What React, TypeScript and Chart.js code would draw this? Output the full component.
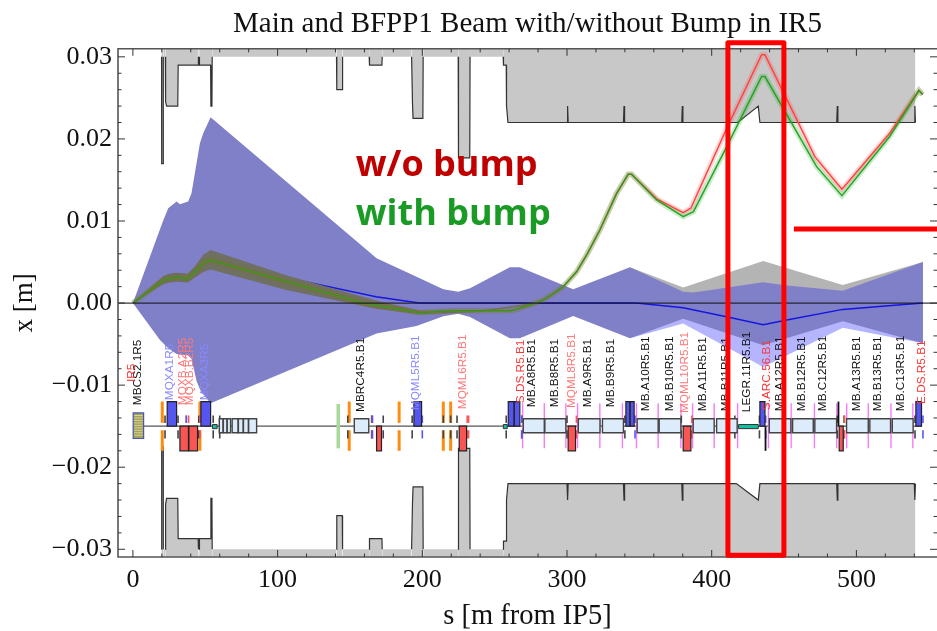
import React, { useEffect, useRef } from "react";
import { Chart, registerables } from "chart.js";
Chart.register(...registerables);

type P = [number, number];

const titleText = "Main and BFPP1 Beam with/without Bump in IR5";
const xTitle = "s [m from IP5]";
const yTitle = "x [m]";
const xTickValues = [0, 100, 200, 300, 400, 500];
const yTickValues = [0.03, 0.02, 0.01, 0, -0.01, -0.02, -0.03];
const yTickLabels = ["0.03", "0.02", "0.01", "0.00", "\u22120.01", "\u22120.02", "\u22120.03"];

const apertureTop: P[] = [
  [19.4, 0.03], [19.8, 0.03], [19.9, 0.017], [20.9, 0.017], [21.0, 0.03], [22.4, 0.03], [22.6, 0.0245], [23.3, 0.024], [31, 0.024], [31.3, 0.029],
  [45.1, 0.029], [45.3, 0.03], [45.8, 0.03], [46, 0.029], [53.7, 0.029], [53.9, 0.024], [54.6, 0.024], [54.8, 0.03],
  [140.7, 0.03], [140.9, 0.026], [144.7, 0.026], [144.9, 0.03], [163.3, 0.03], [163.5, 0.029], [172.1, 0.029], [172.3, 0.03],
  [192.6, 0.03], [193.2, 0.0245], [193.6, 0.0225], [200.4, 0.0225], [200.6, 0.03], [224.8, 0.03], [225, 0.0177], [232.8, 0.0177], [233, 0.03],
  [255.9, 0.03], [256.1, 0.029], [258, 0.029], [258.2, 0.024], [259.2, 0.022], [300, 0.022], [300.4, 0.024], [300.8, 0.022],
  [339, 0.022], [339.4, 0.024], [339.8, 0.022], [379.3, 0.022], [379.7, 0.024], [380.1, 0.022], [418, 0.022], [432.2, 0.024], [433.3, 0.022],
  [486.4, 0.022], [486.8, 0.024], [487.2, 0.022], [540, 0.022], [540.4, 0.024], [540.8, 0.022],
];
const apertureBottom: P[] = [
  [19.4, -0.03], [19.8, -0.03], [19.9, -0.0175], [20.9, -0.0175], [21.0, -0.03], [22.4, -0.03], [22.6, -0.0245], [23.3, -0.0238], [31, -0.0238], [31.3, -0.0287],
  [45.1, -0.0287], [45.3, -0.03], [45.8, -0.03], [46, -0.0287], [53.7, -0.0287], [53.9, -0.0238], [54.6, -0.0238], [54.8, -0.03],
  [140.7, -0.03], [140.9, -0.0259], [144.7, -0.0259], [144.9, -0.03], [163.3, -0.03], [163.5, -0.0287], [172.1, -0.0287], [172.3, -0.03],
  [192.6, -0.03], [193.2, -0.0245], [193.6, -0.0224], [200.4, -0.0224], [200.6, -0.03], [224.8, -0.03], [225, -0.0177], [232.8, -0.0177], [233, -0.03],
  [255.9, -0.03], [256.1, -0.029], [258, -0.029], [258.2, -0.024], [259.2, -0.022], [300, -0.022], [300.4, -0.024], [300.8, -0.022],
  [339, -0.022], [339.4, -0.024], [339.8, -0.022], [379.3, -0.022], [379.7, -0.024], [380.1, -0.022], [417, -0.022], [432.2, -0.024], [433.3, -0.022],
  [486.4, -0.022], [486.8, -0.024], [487.2, -0.022], [540, -0.022], [540.4, -0.024], [540.8, -0.022],
];

const grayEnvTop: P[] = [
  [343.5, 0.00435], [380.3, 0.0019], [435.6, 0.00513], [490.6, 0.00221], [546, 0.005],
];
const lavenderEnvBottom: P[] = [
  [343.5, -0.0043], [380.3, -0.0025], [435.6, -0.0078], [490.6, -0.003], [546, -0.0049],
];
const envelopeTop: P[] = [
  [0, 0], [21, 0.0101], [24.4, 0.01155], [30.2, 0.01236], [32.5, 0.01203], [38.2, 0.01236], [40.5, 0.01337], [46.3, 0.01947], [48.6, 0.0207], [53.7, 0.02264],
  [168.4, 0.00545], [196, 0.00321], [214.5, 0.00167], [224.8, 0.00138], [233, 0.00179], [260.5, 0.00435], [267.4, 0.00435], [304.3, 0.00167], [343.5, 0.00435],
  [380.3, 0.00138], [387.4, 0.0013], [435.6, 0.00254], [451.9, 0.00213], [490.6, 0.0015], [546, 0.005],
];
const envelopeBottom: P[] = [
  [0, 0], [18.7, -0.0045], [24.4, -0.0055], [30.2, -0.0062], [38.2, -0.0064], [40.5, -0.0068], [44, -0.0095], [46.3, -0.0105], [48.6, -0.0111], [53.7, -0.0122],
  [168.4, -0.0037], [196, -0.0028], [214.5, -0.0016], [224.8, -0.0013], [233, -0.0017], [260.5, -0.0043], [267.4, -0.0043], [304.3, -0.00159], [343.5, -0.0043],
  [380.3, -0.0019], [435.6, -0.00513], [490.6, -0.00221], [546, -0.0049],
];
const brownBandTop: P[] = [
  [0, 0], [21, 0.0033], [25.5, 0.0036], [30, 0.0037], [38, 0.0036], [42.9, 0.0045], [48.6, 0.0059], [53.7, 0.00646], [106, 0.0034], [168, 0.0003], [198, -0.0009], [240, -0.0009], [280, 0.0001],
];
const brownBandBottom: P[] = [
  [0, 0], [21, 0.0023], [25.5, 0.0025], [30, 0.0026], [38, 0.0025], [42.9, 0.0031], [48.6, 0.0038], [53.7, 0.0041], [106, 0.0016], [168, -0.0007], [198, -0.00135], [240, -0.0011], [280, -0.0001],
];
const mainOrbit: P[] = [
  [0, 0], [21, 0.0028], [30, 0.0031], [38, 0.003], [45, 0.0043], [53.7, 0.00524], [106, 0.0031], [168, 0.00077], [198, 0], [348, 0],
  [380.3, -0.00057], [412.6, -0.00175], [435.6, -0.00264], [451.9, -0.00207], [490.6, -0.00077], [520, -0.00037], [546, 0],
];
const redOrbit: P[] = [
  [0, 0], [21, 0.0028], [25.5, 0.003], [30, 0.0031], [38, 0.003], [42.9, 0.0038], [48.6, 0.0049], [53.7, 0.00524], [159, 0], [198, -0.00118], [221, -0.00094], [260.5, -0.00094],
  [265, -0.00077], [275, -0.0002], [283.5, 0.00037], [290, 0.0011], [297.4, 0.002], [306.6, 0.0038], [314, 0.006], [322.7, 0.0089], [334.3, 0.01337], [342.3, 0.0157], [344.6, 0.0157],
  [362, 0.0127], [380.3, 0.01101], [385.6, 0.01155], [410.4, 0.0213], [434.5, 0.03025], [436.8, 0.03025], [471.3, 0.01784], [490, 0.01387], [523, 0.0207], [543.2, 0.0259], [545.8, 0.0254],
];
const greenOrbit: P[] = [
  [0, 0], [21, 0.0028], [25.5, 0.003], [30, 0.0031], [38, 0.003], [42.9, 0.0038], [48.6, 0.0049], [53.7, 0.00524], [159, 0], [198, -0.00118], [221, -0.00094], [260.5, -0.00094],
  [265, -0.00077], [275, -0.0002], [283.5, 0.00037], [290, 0.0011], [297.4, 0.002], [306.6, 0.0038], [314, 0.006], [322.7, 0.0089], [334.3, 0.01337], [342.3, 0.0157], [344.6, 0.0157],
  [362, 0.01256], [380.3, 0.01053], [387.4, 0.01114], [410.4, 0.01906], [434.5, 0.0276], [436.8, 0.0276], [472.5, 0.01662], [490, 0.01309], [523, 0.0203], [543.2, 0.0259], [545.8, 0.0254],
];
const zeroLine: P[] = [[-10.3, 0], [555.7, 0]];

// machine layout: [s start, s end]
const beamlineSpan: P = [0, 545];
const scBox: P = [0.2, 7.4];
const focusQuads: P[] = [[23.7, 30.2], [47, 53.7], [194.2, 199.5], [259.4, 263.4], [263.6, 267.4], [340.7, 343.4], [343.7, 346.4], [433.3, 436.8], [541.1, 545]];
const defocusQuads: P[] = [[32.5, 38.4], [38.7, 44.7], [168.4, 171.8], [225.5, 230.6], [300.8, 305.9], [380.3, 385.6], [488.1, 490.9]];
const bends: P[] = [
  [59.7, 62.3], [62.5, 65], [65.2, 67.5], [68.6, 72.7], [72.9, 76.2], [76.4, 79.8], [80, 85.5], [153, 163],
  [269.8, 284.3], [284.7, 299.2], [307.8, 322.8], [324.5, 339], [348.5, 363], [363.7, 378.7], [387.2, 401.7], [403.4, 417.6],
  [439.8, 454.7], [455.9, 470.2], [471.3, 486.3], [493.2, 508.2], [509.3, 523.6], [524.8, 539.2],
];
const tealBoxes: P[] = [[55, 58.2], [256, 258.7], [418.6, 432.2]];
const orangeBars = [20.3, 46.3, 149.5, 184, 214.5, 219.6];
const greenBars = [141.9];
const pinkBars = [269.3, 284.3, 299.2, 307.3, 322.7, 338.3, 348, 363, 378.7, 386.8, 401.7, 417.9, 439.2, 454.9, 471, 486.4, 493.3, 508.2, 523.9, 539];
const blackStubs = [22.2, 31.2, 45.5, 55.5, 60, 148.5, 165, 173, 193, 214.5, 219.6, 224, 258, 268.7, 300, 340, 379, 416, 433, 486.8, 491.5, 540.5];
const redStubs = [36.9, 38.5, 46.5, 165.5, 231, 232, 306.5, 386.3, 491.8];
const blueStubs = [36.9, 165.5, 200, 268.7, 347, 437.3, 546];
const tallStubsDown = [437.2];
const tallStubsUp = [487.6];

// [name, s, lower end of the rotated text in x, colour]
type L = [string, number, number, string];
const elementLabels: L[] = [
  ["MBCS2.1R5", 3, -0.01244, "#111"], ["IR5", -1, -0.00963, "#f33"], ["MQXA1R5", 25.6, -0.01183, "#88f"], ["MQXB.A2R5", 34.3, -0.01244, "#f77"], ["MQXB.B2R5", 39.4, -0.01244, "#f77"], ["MQXA3R5", 49.8, -0.01183, "#88f"],
  ["MBRC4R5.B1", 157.3, -0.01326, "#111"], ["MQML5R5.B1", 195.6, -0.01305, "#88f"], ["MQML6R5.B1", 227.9, -0.01293, "#f77"], ["S.DS.R5.B1", 267.9, -0.0122, "#f33"],
  ["MB.A8R5.B1", 275.5, -0.01268, "#111"], ["MB.B8R5.B1", 291.2, -0.01268, "#111"], ["MQML8R5.B1", 303.2, -0.0128, "#f77"], ["MB.A9R5.B1", 314.6, -0.01268, "#111"], ["MB.B9R5.B1", 330.1, -0.01268, "#111"],
  ["MB.A10R5.B1", 354.3, -0.01317, "#111"], ["MB.B10R5.B1", 370.7, -0.01317, "#111"], ["MQML10R5.B1", 381.5, -0.01341, "#f77"], ["MB.A11R5.B1", 394.1, -0.01317, "#111"], ["MB.B11R5.B1", 409.6, -0.01317, "#111"],
  ["LEGR.11R5.B1", 424, -0.01329, "#111"], ["S.ARC.56.B1", 437.9, -0.01305, "#f33"], ["MB.A12R5.B1", 446.7, -0.01317, "#111"], ["MB.B12R5.B1", 462, -0.01317, "#111"], ["MB.C12R5.B1", 477, -0.01317, "#111"],
  ["MB.A13R5.B1", 500, -0.01317, "#111"], ["MB.B13R5.B1", 515, -0.01317, "#111"], ["MB.C13R5.B1", 530.8, -0.01317, "#111"], ["E.DS.R5.B1", 545, -0.0123, "#f33"],
];
const noteWithout = { text: "w/o bump", s: 154, v: 0.01675, color: "#c00000" };
const noteWith = { text: "with bump", s: 154, v: 0.01075, color: "#1a9b26" };
const highlightBox = { s0: 411.2, s1: 449.9, v0: 0.03171, v1: -0.03073 };
const highlightBar = { s0: 456.8, s1: 555.7, v: 0.00902 };

const SERIF = '"Liberation Serif", "Times New Roman", serif';

const pts = (a: P[]) => a.map(([x, y]) => ({ x, y }));
const line = (label: string, data: P[], extra: object) => ({
  label, data: pts(data), pointRadius: 0, borderWidth: 0, borderColor: "transparent", backgroundColor: "transparent", fill: false, tension: 0, ...extra,
});

const overlay = {
  id: "overlay",
  afterDatasetsDraw(chart: any) {
    const { ctx, chartArea: a, scales } = chart;
    const X = (s: number) => scales.x.getPixelForValue(s);
    const Y = (v: number) => scales.y.getPixelForValue(v);
    ctx.save();
    const rect = (s: P, v0: number, v1: number, fillC: string, strokeC: string, lw = 1) => {
      ctx.fillStyle = fillC; ctx.strokeStyle = strokeC; ctx.lineWidth = lw;
      ctx.beginPath(); ctx.rect(X(s[0]), Y(v0), X(s[1]) - X(s[0]), Y(v1) - Y(v0)); ctx.fill(); ctx.stroke();
    };
    const bar = (s: number, v0: number, v1: number, c: string, w: number) => {
      ctx.strokeStyle = c; ctx.lineWidth = w;
      ctx.beginPath(); ctx.moveTo(X(s), Y(v0)); ctx.lineTo(X(s), Y(v1)); ctx.stroke();
    };
    ctx.strokeStyle = "#555"; ctx.lineWidth = 1.2;
    ctx.beginPath(); ctx.moveTo(X(beamlineSpan[0]), Y(-0.015)); ctx.lineTo(X(beamlineSpan[1]), Y(-0.015)); ctx.stroke();
    pinkBars.forEach((s) => bar(s, -0.0122, -0.0177, "#f67cf6", 1.4));
    orangeBars.forEach((s) => { bar(s, -0.012, -0.0146, "#ff8c10", 3); bar(s, -0.0155, -0.018, "#ff8c10", 3); });
    greenBars.forEach((s) => bar(s, -0.0123, -0.0177, "#a8d89a", 3.5));
    blackStubs.forEach((s) => { bar(s, -0.0137, -0.0146, "#444", 1.6); bar(s, -0.0155, -0.0165, "#444", 1.6); });
    redStubs.forEach((s) => { bar(s, -0.0137, -0.0146, "#f55", 1.6); bar(s, -0.0155, -0.0165, "#f55", 1.6); });
    blueStubs.forEach((s) => { bar(s, -0.0137, -0.0146, "#55f", 1.6); bar(s, -0.0155, -0.0165, "#55f", 1.6); });
    tallStubsDown.forEach((s) => bar(s, -0.015, -0.018, "#111", 1.8));
    tallStubsUp.forEach((s) => bar(s, -0.012, -0.015, "#111", 1.8));
    rect(scBox, -0.01338, -0.0165, "#a3a35c", "#4a55b8", 1.2);
    for (let v = -0.0137; v > -0.0164; v -= 0.0003) {
      ctx.strokeStyle = "#e4e098"; ctx.lineWidth = 0.8;
      ctx.beginPath(); ctx.moveTo(X(scBox[0]) + 1, Y(v)); ctx.lineTo(X(scBox[1]) - 1, Y(v)); ctx.stroke();
    }
    bends.forEach((s) => rect(s, -0.0141, -0.0158, "#dcecfb", "#444", 1.4));
    focusQuads.forEach((s) => rect(s, -0.012, -0.015, "#5555f0", "#222", 1.2));
    defocusQuads.forEach((s) => rect(s, -0.015, -0.018, "#f85555", "#222", 1.2));
    tealBoxes.forEach((s) => rect(s, -0.0148, -0.0153, "#12c0a0", "#333", 1));
    ctx.font = '11.8px "Liberation Sans", Arial, sans-serif';
    ctx.textAlign = "left"; ctx.textBaseline = "middle";
    elementLabels.forEach(([t, s, v, c]) => {
      ctx.save();
      ctx.translate(X(s), Y(v));
      ctx.rotate(-Math.PI / 2);
      ctx.fillStyle = c;
      ctx.fillText(t, 0, 0);
      ctx.restore();
    });
    // frame (the right edge has ticks only) and inward ticks
    ctx.strokeStyle = "#555"; ctx.lineWidth = 1.6;
    ctx.beginPath(); ctx.moveTo(a.right, a.top); ctx.lineTo(a.left, a.top); ctx.lineTo(a.left, a.bottom); ctx.lineTo(a.right, a.bottom); ctx.stroke();
    ctx.strokeStyle = "#333"; ctx.lineWidth = 1;
    scales.x.ticks.forEach((t: any) => {
      const len = xTickValues.includes(t.value) ? 7 : 3.5;
      const p = X(t.value);
      ctx.beginPath(); ctx.moveTo(p, a.bottom); ctx.lineTo(p, a.bottom - len); ctx.moveTo(p, a.top); ctx.lineTo(p, a.top + len); ctx.stroke();
    });
    scales.y.ticks.forEach((t: any) => {
      const len = yTickValues.some((m) => Math.abs(m - t.value) < 1e-6) ? 7 : 3.5;
      const p = Y(t.value);
      ctx.beginPath(); ctx.moveTo(a.left, p); ctx.lineTo(a.left + len, p); ctx.moveTo(a.right, p); ctx.lineTo(a.right - len, p); ctx.stroke();
    });
    ctx.font = 'bold 36px "Open Sans", sans-serif';
    ctx.textBaseline = "middle"; ctx.textAlign = "left";
    [noteWithout, noteWith].forEach((n) => { ctx.fillStyle = n.color; ctx.fillText(n.text, X(n.s), Y(n.v)); });
    ctx.strokeStyle = "#f00"; ctx.lineWidth = 5; ctx.lineJoin = "round";
    ctx.strokeRect(X(highlightBox.s0), Y(highlightBox.v0), X(highlightBox.s1) - X(highlightBox.s0), Y(highlightBox.v1) - Y(highlightBox.v0));
    ctx.beginPath(); ctx.moveTo(X(highlightBar.s0), Y(highlightBar.v)); ctx.lineTo(X(highlightBar.s1), Y(highlightBar.v)); ctx.stroke();
    ctx.restore();
  },
};

export default function App() {
  const ref = useRef<HTMLCanvasElement>(null);
  useEffect(() => {
    const hideFlat = (ctx: any) => (Math.abs(ctx.p0.parsed.y) === 0.03 && Math.abs(ctx.p1.parsed.y) === 0.03 ? "transparent" : undefined);
    const list: any[] = [
      line("Aperture top", apertureTop, { fill: { value: 0.031 }, backgroundColor: "#c8c8c8", borderColor: "#333", borderWidth: 1.2, segment: { borderColor: hideFlat } }),
      line("Aperture bottom", apertureBottom, { fill: { value: -0.031 }, backgroundColor: "#c8c8c8", borderColor: "#333", borderWidth: 1.2, segment: { borderColor: hideFlat } }),
      line("BFPP envelope", grayEnvTop, { fill: { value: 0 }, backgroundColor: "#b4b4b4" }),
      line("Main envelope lower", lavenderEnvBottom, { fill: { value: 0 }, backgroundColor: "#b4b4ff" }),
      line("Overlap top", envelopeTop, { fill: "+1", backgroundColor: "#8080c8" }),
      line("Overlap bottom", envelopeBottom, {}),
      line("Main orbit", mainOrbit, { borderColor: "#1515e0", borderWidth: 1.5 }),
      line("Beam band top", brownBandTop, { fill: "+1", backgroundColor: "#6f6f62" }),
      line("Beam band bottom", brownBandBottom, {}),
      line("Red halo", redOrbit, { borderColor: "rgba(255,60,60,0.2)", borderWidth: 5.5 }),
      line("Green halo", greenOrbit, { borderColor: "rgba(20,170,20,0.22)", borderWidth: 5.5 }),
      line("w/o bump", redOrbit, { borderColor: "#f44", borderWidth: 1.5 }),
      line("with bump", greenOrbit, { borderColor: "rgba(30,160,30,0.95)", borderWidth: 1.5 }),
      line("Axis", zeroLine, { borderColor: "rgba(20,20,30,0.85)", borderWidth: 1.3 }),
    ];
    list.forEach((d, i) => (d.order = list.length - i));
    const chart = new Chart(ref.current!, {
      type: "line",
      data: { datasets: list },
      plugins: [overlay],
      options: {
        responsive: false,
        animation: false,
        layout: { padding: 0 },
        plugins: {
          legend: { display: false },
          tooltip: { enabled: false },
          title: {
            display: true, text: titleText, color: "#111", fullSize: false,
            font: { family: SERIF, size: 29, weight: "normal", lineHeight: 1.2 },
            padding: { top: 7, bottom: 7 },
          },
        },
        scales: {
          x: {
            type: "linear", min: -10.3, max: 555.7,
            afterFit: (s: any) => { s.height = 74; },
            grid: { display: false }, border: { display: false },
            ticks: {
              stepSize: 20, includeBounds: false, autoSkip: false, maxRotation: 0, color: "#111", padding: 0,
              font: { family: SERIF, size: 26 },
              callback: (v: any) => (xTickValues.includes(v) ? String(v) : ""),
            },
            title: { display: true, text: xTitle, color: "#111", font: { family: SERIF, size: 28.5, lineHeight: 1 }, padding: { top: 0, bottom: 0 } },
          },
          y: {
            type: "linear", min: -0.03094, max: 0.03098,
            afterFit: (s: any) => { s.width = 118; },
            grid: { display: false }, border: { display: false },
            ticks: {
              stepSize: 0.002, includeBounds: false, autoSkip: false, color: "#111", padding: -2,
              font: { family: SERIF, size: 26 },
              callback: (v: any) => {
                const i = yTickValues.findIndex((m) => Math.abs(m - v) < 1e-6);
                return i >= 0 ? yTickLabels[i] : "";
              },
            },
            title: { display: true, text: yTitle, color: "#111", font: { family: SERIF, size: 27 }, padding: { top: 9, bottom: 0 } },
          },
        },
      } as any,
    });
    return () => chart.destroy();
  }, []);
  return (
    <div style={{ position: "absolute", left: 0, top: 0, width: 937, height: 631, background: "#fff" }}>
      <canvas ref={ref} width={937} height={631} style={{ display: "block" }} />
    </div>
  );
}
